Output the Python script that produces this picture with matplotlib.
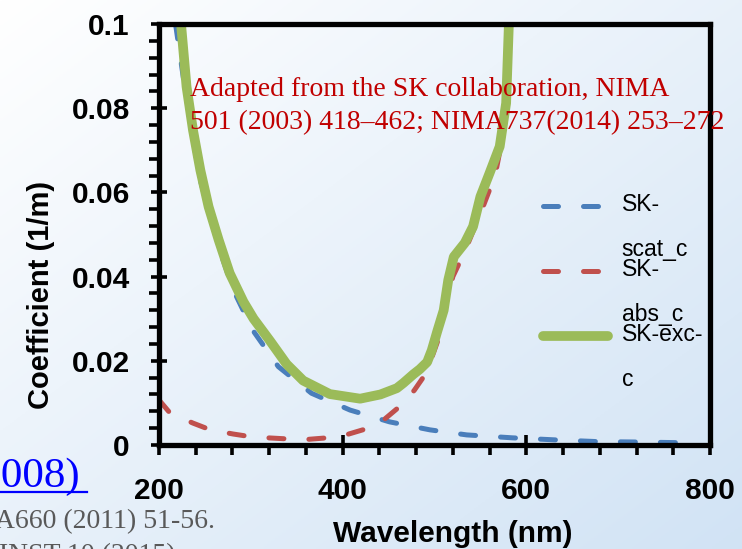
import numpy as np
import matplotlib
matplotlib.use("Agg")
import matplotlib.pyplot as plt
from matplotlib.ticker import MultipleLocator, FuncFormatter
from matplotlib.lines import Line2D

# data (wavelength nm, coefficient 1/m)
scat_wl = [218, 228, 244, 255, 266, 281, 302, 330, 366, 408, 451, 495, 535, 585, 633, 678, 724, 781]
scat_c = [0.100, 0.085, 0.0637, 0.055, 0.0463, 0.0368, 0.0273, 0.0186, 0.0123, 0.0083,
          0.0055, 0.0036, 0.0024, 0.0017, 0.0012, 0.0008, 0.0007, 0.0005]

abs_wl = [200, 212, 237, 256, 281, 302, 335, 360, 383, 405, 428, 446, 464, 478, 491,
          504, 512, 520, 533, 550, 566, 575, 579, 583]
abs_c = [0.0107, 0.0076, 0.0052, 0.0036, 0.0026, 0.0019, 0.0015, 0.0013, 0.0017, 0.0025,
         0.0040, 0.0062, 0.0095, 0.0130, 0.0171, 0.025, 0.033, 0.040, 0.046, 0.055,
         0.064, 0.074, 0.085, 0.100]

exc_wl = [224, 230, 237, 245, 254, 265, 277, 292, 303, 321, 339, 357, 386, 419, 441,
          459, 466, 477, 484, 492, 497, 503, 510, 515, 521, 533, 542, 550, 560, 571,
          578, 581]
exc_c = [0.100, 0.0851, 0.0748, 0.0653, 0.0566, 0.0487, 0.0408, 0.0340, 0.0300, 0.0247,
         0.0192, 0.0153, 0.0121, 0.0110, 0.0120, 0.0135, 0.0147, 0.0168, 0.0180, 0.0197,
         0.0225, 0.027, 0.032, 0.0392, 0.0447, 0.048, 0.0519, 0.059, 0.0646, 0.0709,
         0.0812, 0.100]

labels = ["SK-\nscat_c", "SK-\nabs_c", "SK-exc-\nc"]

blue = "#4a7ebb"
red = "#c0504d"
green = "#9bbb59"

plt.rcParams["font.family"] = ["Liberation Sans", "DejaVu Sans"]

fig = plt.figure(figsize=(7.42, 5.49), dpi=100)

# slide background gradient
bg = fig.add_axes([0, 0, 1, 1], zorder=-10)
gx, gy = np.meshgrid(np.linspace(0, 1, 200), np.linspace(0, 1, 200))
t = np.clip((gx + gy) / 2, 0, 1)
c0 = np.array([1.0, 1.0, 1.0])
c1 = np.array([0.82, 0.89, 0.96])
img = c0[None, None, :] * (1 - t[..., None]) + c1[None, None, :] * t[..., None]
bg.imshow(img, extent=[0, 1, 0, 1], aspect="auto", origin="upper")
bg.axis("off")

ax = fig.add_axes([159 / 742, 104 / 549, 551 / 742, 421 / 549])
ax.set_facecolor("none")

dash = (0, (3, 5))
ax.plot(scat_wl, scat_c, color=blue, lw=3.6, linestyle=dash, dash_capstyle="round")
ax.plot(abs_wl, abs_c, color=red, lw=3.6, linestyle=dash, dash_capstyle="round")
ax.plot(exc_wl, exc_c, color=green, lw=7, solid_capstyle="butt", solid_joinstyle="round")

ax.set_xlim(200, 800)
ax.set_ylim(0, 0.1)
ax.xaxis.set_major_locator(MultipleLocator(200))
ax.xaxis.set_minor_locator(MultipleLocator(40))
ax.yaxis.set_major_locator(MultipleLocator(0.02))
ax.yaxis.set_minor_locator(MultipleLocator(0.004))
ax.yaxis.set_major_formatter(FuncFormatter(lambda v, p: "%g" % round(v, 3)))

for s in ax.spines.values():
    s.set_linewidth(3.8)
ax.tick_params(axis="x", which="major", direction="inout", length=14, width=2.6,
               labelsize=21.5, pad=16)
ax.tick_params(axis="x", which="minor", direction="out", length=7, width=2.6)
ax.tick_params(axis="y", which="major", direction="inout", length=12, width=2.6,
               labelsize=21.5, pad=15)
ax.tick_params(axis="y", which="minor", direction="out", length=7, width=2.6)
for lab in ax.get_xticklabels() + ax.get_yticklabels():
    lab.set_fontweight("bold")

ax.set_xlabel("Wavelength (nm)", fontsize=21.5, fontweight="bold")
ax.set_ylabel("Coefficient (1/m)", fontsize=21, fontweight="bold")
ax.xaxis.set_label_coords(0.534, -0.178)
ax.yaxis.set_label_coords(-0.189, 0.356)

# legend drawn by hand so the key sits on the first line of each label
key_y = [0.5677, 0.4133, 0.2589]
styles = [dict(color=blue, lw=3.6, linestyle=dash, dash_capstyle="round"),
          dict(color=red, lw=3.6, linestyle=dash, dash_capstyle="round"),
          dict(color=green, lw=7, solid_capstyle="round")]
for yk, st, lab in zip(key_y, styles, labels):
    ax.add_line(Line2D([0.697, 0.815], [yk, yk], transform=ax.transAxes, **st))
    ax.text(0.840, yk + 0.030, lab, transform=ax.transAxes, fontsize=16.5,
            va="top", ha="left", linespacing=2.2)

fig.text(190 / 742, 1 - 77 / 549,
         "Adapted from the SK collaboration, NIMA\n501 (2003) 418\u2013462; NIMA737(2014) 253\u2013272",
         color="#c00000", fontsize=20, family="Liberation Serif", va="top", ha="left",
         linespacing=1.45)

# slide text cut off at the left edge
fig.text(80 / 742, 1 - 487 / 549, "(2008)", color="#0000ff", fontsize=31,
         family="Liberation Serif", ha="right", va="baseline")
fig.add_artist(Line2D([0, 87 / 742], [1 - 492 / 549, 1 - 492 / 549], color="#0000ff", lw=1.6))
fig.text(215 / 742, 1 - 528 / 549, "NIMA660 (2011) 51-56.", color="#595959", fontsize=20,
         family="Liberation Serif", ha="right", va="baseline")
fig.text(175 / 742, 1 - 562 / 549, "JINST 10 (2015)", color="#595959", fontsize=20,
         family="Liberation Serif", ha="right", va="baseline")

fig.savefig("out.png", dpi=100)
